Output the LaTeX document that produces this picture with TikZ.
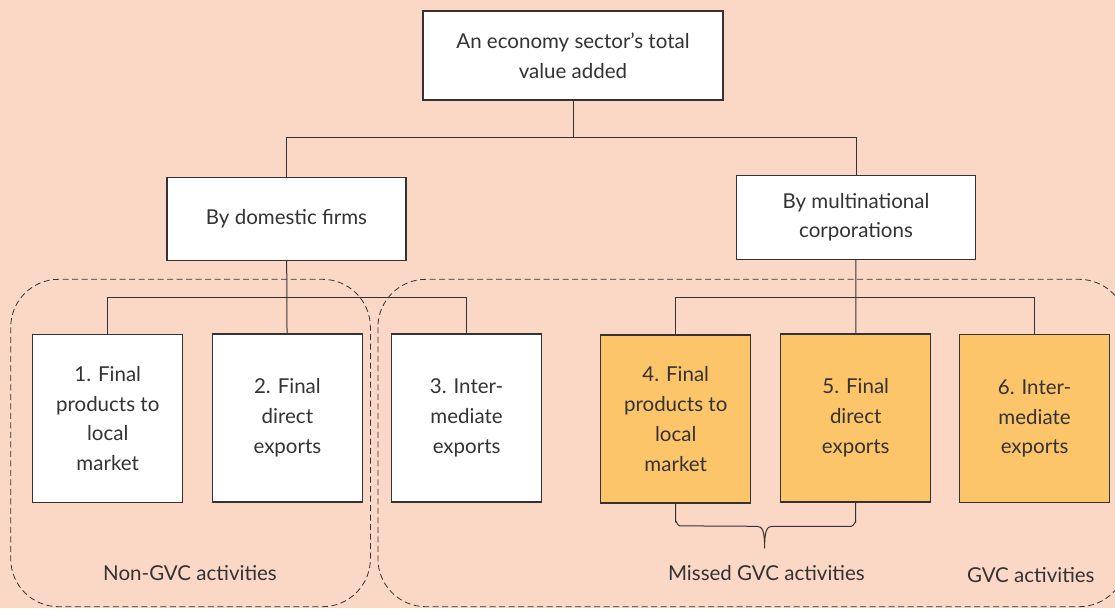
\documentclass[tikz,border=0pt]{standalone}
\usepackage{fontspec}
\setmainfont{Lato}
\usepackage{xcolor}
\definecolor{peach}{RGB}{251,216,198}
\definecolor{gvcorange}{RGB}{253,197,106}
\definecolor{inkgray}{RGB}{52,50,50}

\begin{document}
\begin{tikzpicture}[x=1pt,y=1pt,yscale=-1,
  boxline/.style={draw=inkgray, line width=1.1pt},
  whitebox/.style={boxline, fill=white, align=center, text=inkgray, font=\fontsize{20.5}{29.8}\selectfont, inner sep=0pt},
  actbox/.style={whitebox, minimum width=150, minimum height=168},
  gvcbox/.style={actbox, fill=gvcorange},
  link/.style={draw=inkgray, line width=1pt},
  region/.style={draw=inkgray, line width=0.8pt, dash pattern=on 6pt off 3.5pt, rounded corners=48},
  caption/.style={text=inkgray, font=\fontsize{20.5}{24}\selectfont}]

\useasboundingbox (0,0) rectangle (1115,608);
\fill [peach] (0,0) rectangle (1115,608);

\draw [region] (10.7,279.3) rectangle (370.4,606.7);
\draw [region] (377.9,279.3) rectangle (1127,606.7);

\node [whitebox, minimum width=300, minimum height=89] (total) at (573,55.5) {An economy sector’s total\\value added};
\node [whitebox, minimum width=239, minimum height=83] (dom) at (286.5,219) {By domestic firms};
\node [whitebox, minimum width=239, minimum height=84] (mnc) at (856,217.3) {By multinational\\corporations};

\node [actbox] (act1) at (107.7,418.5) {1. Final\\products to\\local\\market};
\node [actbox] (act2) at (287.4,418) {2. Final\\direct\\exports};
\node [actbox] (act3) at (466.6,418) {3. Inter-\\mediate\\exports};
\node [gvcbox] (act4) at (675.7,419) {4. Final\\products to\\local\\market};
\node [gvcbox] (act5) at (855.7,418) {5. Final\\direct\\exports};
\node [gvcbox] (act6) at (1034.6,418.5) {6. Inter-\\mediate\\exports};

\coordinate (topsplit) at (573,137.5);
\coordinate (domsplit) at (287.4,297.7);
\coordinate (mncsplit) at (855.7,297.7);
\coordinate (missedtip) at (764.6,548.3);

\draw [link] (total) -- (topsplit);
\draw [link] (dom.north) |- (topsplit) -| (mnc.north);

\draw [link] (dom) -- (act2);
\draw [link] (act1.north) |- (domsplit) -| (act3.north);
\draw [link] (mnc) -- (act5);
\draw [link] (act4.north) |- (mncsplit) -| (act6.north);

\draw [link] (act4.south) -- ++(0,18) to[out=-90,in=180] ++(4,4.3) -- (757,526.3)
  .. controls (762.5,526.3) and (764.6,531) .. (missedtip)
  .. controls (764.6,531) and (766.7,526.3) .. (772,526.3) -- (851.4,526.3)
  to[out=0,in=-90] (855.7,522) -- (act5.south);

\node [caption] (nongvc) at (190,573) {Non-GVC activities};
\node [caption] (missed) at (766.4,573) {Missed GVC activities};
\node [caption] (gvc) at (1030.8,575) {GVC activities};

\end{tikzpicture}
\end{document}
